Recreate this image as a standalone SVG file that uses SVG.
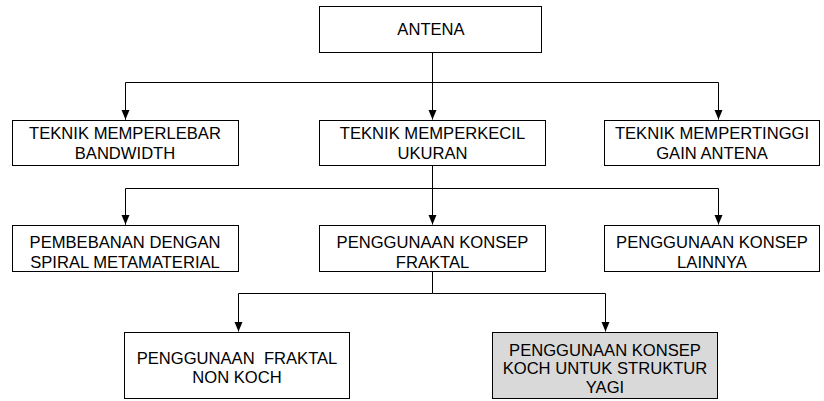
<svg xmlns="http://www.w3.org/2000/svg" width="824" height="401" viewBox="0 0 824 401">
<style>
.box{fill:#ffffff;stroke:#000000;stroke-width:1}
.grey{fill:#d9d9d9}
.t{font-family:"Liberation Sans",Arial,sans-serif;font-size:16.6px;fill:#000000;text-anchor:middle;white-space:pre}
.c{fill:none;stroke:#000000;stroke-width:1}
</style>
<defs>
<marker id="arr" viewBox="0 0 10 10" refX="10" refY="5" markerWidth="10" markerHeight="10" markerUnits="userSpaceOnUse" orient="auto">
<path d="M0,0.8 L10,5 L0,9.2 Z" fill="#000000"/>
</marker>
</defs>
<rect width="824" height="401" fill="#ffffff"/>
<g id="connectors">
<line class="c" x1="432.5" y1="52" x2="432.5" y2="119.5" marker-end="url(#arr)"/>
<polyline class="c" points="125.5,119.5 125.5,82.5 718.5,82.5 718.5,119.5" marker-end="url(#arr)"/>
<line class="c" x1="125.5" y1="100" x2="125.5" y2="119.5" marker-end="url(#arr)"/>
<line class="c" x1="432.5" y1="165" x2="432.5" y2="224.5" marker-end="url(#arr)"/>
<polyline class="c" points="125.5,224.5 125.5,188.5 718.5,188.5 718.5,224.5" marker-end="url(#arr)"/>
<line class="c" x1="125.5" y1="205" x2="125.5" y2="224.5" marker-end="url(#arr)"/>
<polyline class="c" points="432.5,272 432.5,293.5 605.5,293.5 605.5,331.5" marker-end="url(#arr)"/>
<polyline class="c" points="432.5,293.5 238.5,293.5 238.5,331.5" marker-end="url(#arr)"/>
</g>
<g id="antena">
<rect class="box" x="319.5" y="6.5" width="222" height="46"/>
<text class="t" x="431" y="34.5">ANTENA</text>
</g>
<g id="bandwidth">
<rect class="box" x="12.5" y="120.5" width="226" height="45"/>
<text class="t" x="125" y="138.5">TEKNIK MEMPERLEBAR</text>
<text class="t" x="125" y="158.5">BANDWIDTH</text>
</g>
<g id="ukuran">
<rect class="box" x="319.5" y="120.5" width="226" height="45"/>
<text class="t" x="432.5" y="138.5">TEKNIK MEMPERKECIL</text>
<text class="t" x="432.5" y="158.5">UKURAN</text>
</g>
<g id="gain">
<rect class="box" x="604.5" y="120.5" width="215" height="45"/>
<text class="t" x="712" y="138.5">TEKNIK MEMPERTINGGI</text>
<text class="t" x="712" y="158.5">GAIN ANTENA</text>
</g>
<g id="spiral">
<rect class="box" x="12.5" y="225.5" width="226" height="46"/>
<text class="t" x="125" y="247.5">PEMBEBANAN DENGAN</text>
<text class="t" x="125" y="267.5">SPIRAL METAMATERIAL</text>
</g>
<g id="fraktal">
<rect class="box" x="319.5" y="225.5" width="226" height="46"/>
<text class="t" x="432.5" y="247.5">PENGGUNAAN KONSEP</text>
<text class="t" x="432.5" y="267.5">FRAKTAL</text>
</g>
<g id="lainnya">
<rect class="box" x="604.5" y="225.5" width="215" height="46"/>
<text class="t" x="712" y="247.5">PENGGUNAAN KONSEP</text>
<text class="t" x="712" y="267.5">LAINNYA</text>
</g>
<g id="nonkoch">
<rect class="box" x="124.5" y="332.5" width="225" height="66"/>
<text class="t" x="237" y="363.5">PENGGUNAAN  FRAKTAL</text>
<text class="t" x="237" y="382.5">NON KOCH</text>
</g>
<g id="koch">
<rect class="box grey" x="492.5" y="332.5" width="225" height="66"/>
<text class="t" x="605" y="355.5">PENGGUNAAN KONSEP</text>
<text class="t" x="605" y="374">KOCH UNTUK STRUKTUR</text>
<text class="t" x="605" y="392.5">YAGI</text>
</g>
</svg>
